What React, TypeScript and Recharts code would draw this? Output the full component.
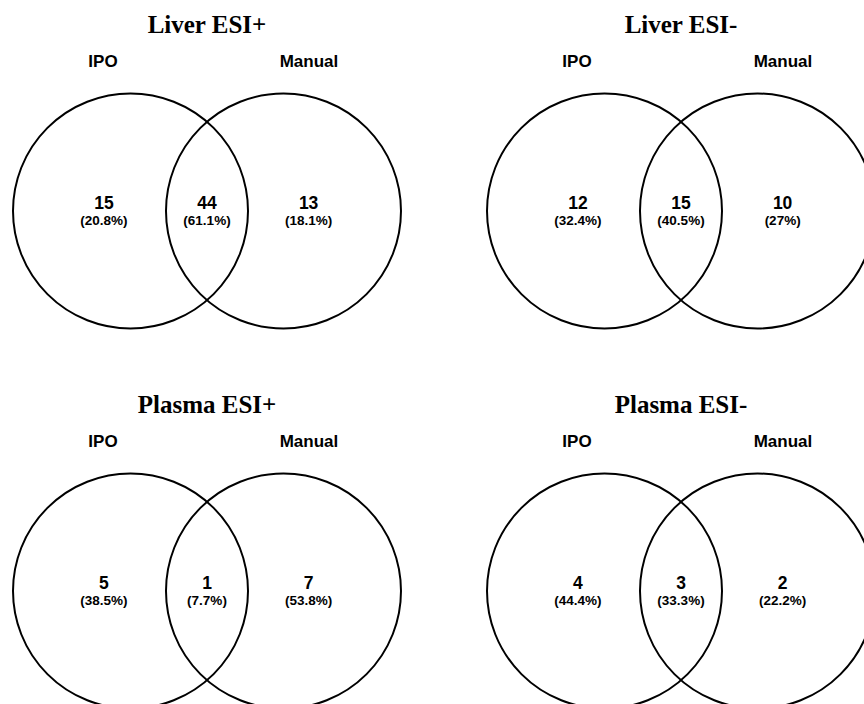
import React from "react";
import { ScatterChart, Scatter, XAxis, YAxis } from "recharts";

// ---- data ----
const panelTitles = ["Liver ESI+", "Liver ESI-", "Plasma ESI+", "Plasma ESI-"];
const setNames = ["IPO", "Manual"];
const onlyIPO = [15, 12, 5, 4];
const shared = [44, 15, 1, 3];
const onlyManual = [13, 10, 7, 2];
const pctOnlyIPO = ["20.8%", "32.4%", "38.5%", "44.4%"];
const pctShared = ["61.1%", "40.5%", "7.7%", "33.3%"];
const pctOnlyManual = ["18.1%", "27%", "53.8%", "22.2%"];

// ---- layout (venn units, circle radius = 1) ----
const PANEL_W = 474;
const PANEL_H = 380;
const PX_PER_UNIT = 117.5;
const CENTER_PX_X = 207;
const CENTER_PX_Y = 211;
const X_DOMAIN: [number, number] = [
  -CENTER_PX_X / PX_PER_UNIT,
  (PANEL_W - CENTER_PX_X) / PX_PER_UNIT,
];
const Y_DOMAIN: [number, number] = [
  (CENTER_PX_Y - PANEL_H) / PX_PER_UNIT,
  CENTER_PX_Y / PX_PER_UNIT,
];
const CIRCLE_X = [-0.651, 0.651];
const REGION_X = [-0.877, 0, 0.865];
const SETNAME_X = [-0.885, 0.868];
const SETNAME_Y = 1.2255;
const TITLE_Y = 1.515;

const circleShape = (p: any) => (
  <circle
    cx={p.cx}
    cy={p.cy}
    r={p.payload.radius * PX_PER_UNIT}
    fill="none"
    stroke="#000"
    strokeWidth={2}
  />
);

const regionShape = (p: any) => (
  <g>
    <text
      x={p.cx}
      y={p.cy - 2.5}
      textAnchor="middle"
      fontFamily="'Liberation Sans', Arial, sans-serif"
      fontWeight="bold"
      fontSize={17.5}
      fill="#000"
    >
      {p.payload.count}
    </text>
    <text
      x={p.cx}
      y={p.cy + 14}
      textAnchor="middle"
      fontFamily="'Liberation Sans', Arial, sans-serif"
      fontWeight="bold"
      fontSize={13.5}
      fill="#000"
    >
      {"(" + p.payload.pct + ")"}
    </text>
  </g>
);

const setNameShape = (p: any) => (
  <text
    x={p.cx}
    y={p.cy}
    textAnchor="middle"
    fontFamily="'Liberation Sans', Arial, sans-serif"
    fontWeight="bold"
    fontSize={17}
    fill="#000"
  >
    {p.payload.name}
  </text>
);

const titleShape = (p: any) => (
  <text
    x={p.cx}
    y={p.cy}
    textAnchor="middle"
    fontFamily="'Liberation Serif', 'Times New Roman', serif"
    fontWeight="bold"
    fontSize={25}
    fill="#000"
  >
    {p.payload.title}
  </text>
);

function VennPanel({ i }: { i: number }) {
  const circles = CIRCLE_X.map((x) => ({ x, y: 0, radius: 1 }));
  const regions = [
    { x: REGION_X[0], y: 0, count: onlyIPO[i], pct: pctOnlyIPO[i] },
    { x: REGION_X[1], y: 0, count: shared[i], pct: pctShared[i] },
    { x: REGION_X[2], y: 0, count: onlyManual[i], pct: pctOnlyManual[i] },
  ];
  const names = setNames.map((name, k) => ({ x: SETNAME_X[k], y: SETNAME_Y, name }));
  const title = [{ x: 0, y: TITLE_Y, title: panelTitles[i] }];
  return (
    <ScatterChart
      width={PANEL_W}
      height={PANEL_H}
      margin={{ top: 0, right: 0, bottom: 0, left: 0 }}
    >
      <XAxis type="number" dataKey="x" domain={X_DOMAIN} hide />
      <YAxis type="number" dataKey="y" domain={Y_DOMAIN} hide />
      <Scatter data={circles} shape={circleShape} isAnimationActive={false} />
      <Scatter data={regions} shape={regionShape} isAnimationActive={false} />
      <Scatter data={names} shape={setNameShape} isAnimationActive={false} />
      <Scatter data={title} shape={titleShape} isAnimationActive={false} />
    </ScatterChart>
  );
}

export default function App() {
  return (
    <div
      style={{
        position: "absolute",
        left: 0,
        top: 0,
        width: 864,
        height: 704,
        overflow: "hidden",
        background: "#fff",
      }}
    >
      {panelTitles.map((_, i) => (
        <div
          key={i}
          style={{
            position: "absolute",
            left: (i % 2) * PANEL_W,
            top: Math.floor(i / 2) * PANEL_H,
            width: PANEL_W,
            height: PANEL_H,
          }}
        >
          <VennPanel i={i} />
        </div>
      ))}
    </div>
  );
}
